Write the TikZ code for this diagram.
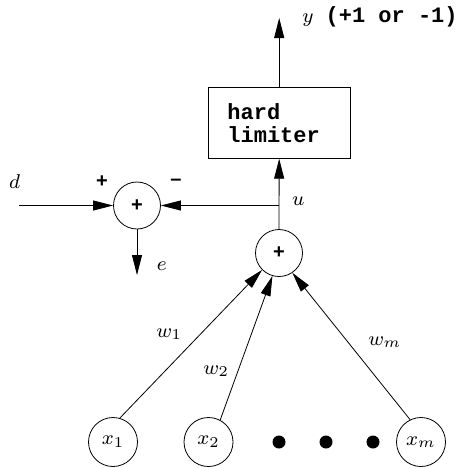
\documentclass[tikz,border=0pt]{standalone}
\usepackage{graphicx}
\usepackage{fontspec}
\newfontfamily\monob{Liberation Mono}
\newfontfamily\sansb{Liberation Sans}
\usetikzlibrary{arrows.meta}
\newcommand\dblmath[1]{\scalebox{2.5}{\fontsize{8}{10}\selectfont$#1$}}
\begin{document}
\begin{tikzpicture}[x=1pt,y=-1pt,
  line width=0.8pt,
  >={Triangle[length=20pt,width=10pt]},
  sumnode/.style={circle,draw,minimum size=47pt,inner sep=0pt,font=\sansb\bfseries\fontsize{20}{24}\selectfont},
  innode/.style={circle,draw,minimum size=49pt,inner sep=0pt},
  dotnode/.style={circle,fill,minimum size=13pt,inner sep=0pt},
  mathlbl/.style={inner sep=0pt},
  signlbl/.style={inner sep=0pt,font=\sansb\bfseries\fontsize{20}{24}\selectfont},
  monotxt/.style={inner sep=0pt,font=\monob\bfseries\fontsize{22}{23.3}\selectfont},
]
\useasboundingbox (0,0) rectangle (468,467);
% nodes
\node[sumnode] (s) at (279,253) {+};
\node[sumnode] (e0) at (137,205.5) {+};
\node[draw,minimum width=141.7pt,minimum height=70.6pt,inner sep=0pt] (hl) at (279.2,123) {};
\node[monotxt,anchor=north west,align=left] (hltxt) at (227,103) {hard\\limiter};
\node[innode] (x1) at (113,442) {\dblmath{x_1}};
\node[innode] (x2) at (208.5,442) {\dblmath{x_2}};
\node[innode] (xm) at (421,442) {\dblmath{x_m}};
\node[dotnode] (d1) at (279,442) {};
\node[dotnode] (d2) at (326,442) {};
\node[dotnode] (d3) at (373,442) {};
% coordinates
\coordinate (top) at (279.2,18);
\coordinate (j) at (279.2,205.5);
\coordinate (din) at (19,205.5);
\coordinate (eout) at (137,275);
% connectors
\draw[->] (hl.north) -- (top);
\draw[->] (s.north) -- (hl.south);
\draw[->] (j) -- (e0.east);
\draw[->] (din) -- (e0.west);
\draw[->] (e0.south) -- (eout);
\draw[->] (x1.74) -- (s.225);
\draw[->] (x2.62) -- (s.254);
\draw[->] (xm.116) -- (s.304);
% labels
\node[mathlbl,anchor=base west] (ylab) at (302,22) {\dblmath{y}\hspace{12pt}{\monob\bfseries\fontsize{22}{24}\selectfont(+1 or -1)}};
\node[mathlbl,anchor=base] (dlab) at (14.5,188) {\dblmath{d}};
\node[mathlbl,anchor=base] (elab) at (161.7,270) {\dblmath{e}};
\node[mathlbl,anchor=base] (ulab) at (298.3,205) {\dblmath{u}};
\node[mathlbl,anchor=base west] (w1lab) at (156,337) {\dblmath{w_1}};
\node[mathlbl,anchor=base west] (w2lab) at (203,374) {\dblmath{w_2}};
\node[mathlbl,anchor=base west] (wmlab) at (368,345) {\dblmath{w_m}};
\node[signlbl] (plab) at (102,182) {+};
\node[signlbl] (mlab) at (176,182) {–};
\end{tikzpicture}
\end{document}
